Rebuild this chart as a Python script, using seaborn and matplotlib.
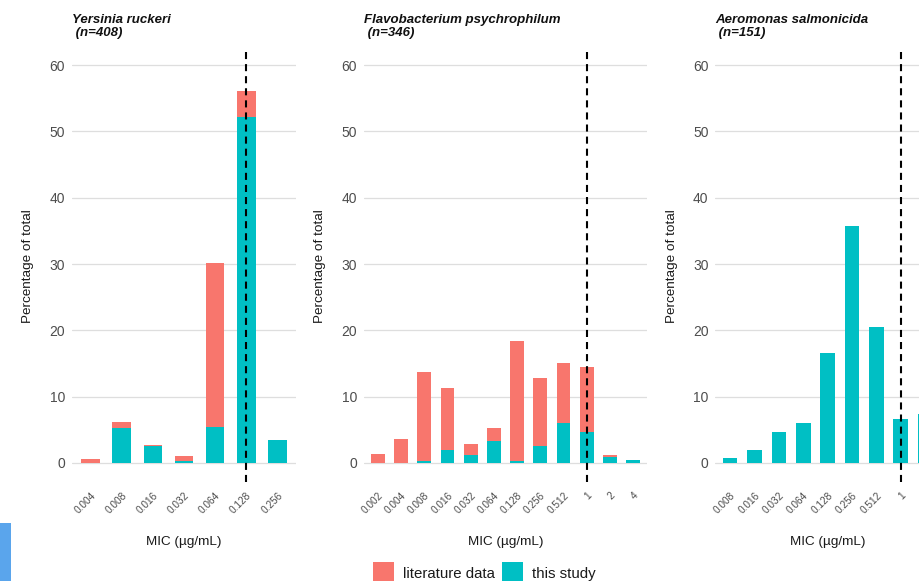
import matplotlib
matplotlib.use("Agg")
import matplotlib.pyplot as plt
from matplotlib.patches import Patch, Rectangle
import seaborn as sns

# MIC categories (µg/mL) per species
yr_mic = ["0.004", "0.008", "0.016", "0.032", "0.064", "0.128", "0.256"]
yr_literature = [0.5, 0.8, 0.2, 0.8, 24.7, 3.9, 0.0]
yr_study = [0.0, 5.3, 2.55, 0.25, 5.4, 52.2, 3.45]

fp_mic = ["0.002", "0.004", "0.008", "0.016", "0.032", "0.064", "0.128",
          "0.256", "0.512", "1", "2", "4"]
fp_literature = [1.4, 3.57, 13.4, 9.3, 1.6, 1.96, 18.04, 10.3, 9.05, 9.8, 0.26, 0.0]
fp_study = [0.0, 0.0, 0.3, 1.96, 1.16, 3.32, 0.3, 2.56, 6.08, 4.72, 0.9, 0.35]

as_mic = ["0.008", "0.016", "0.032", "0.064", "0.128", "0.256", "0.512", "1", "2"]
as_literature = [0.0, 0.0, 0.0, 0.0, 0.0, 0.0, 0.0, 0.0, 0.0]
as_study = [0.75, 2.0, 4.67, 5.98, 16.63, 35.8, 20.55, 6.63, 7.3]

titles = ["Yersinia ruckeri\n (n=408)",
          "Flavobacterium psychrophilum\n (n=346)",
          "Aeromonas salmonicida\n (n=151)"]
breakpoints = ["0.128", "1", "1"]
y_ticks = [0, 10, 20, 30, 40, 50, 60]

LIT_COLOR = "#F8766D"
STUDY_COLOR = "#00BFC4"

sns.set_theme(style="white")
plt.rcParams["font.family"] = ["Liberation Sans", "DejaVu Sans"]

W, H = 920, 581
fig = plt.figure(figsize=(W / 100, H / 100), dpi=100)


def px_axes(left, right, top=50, bottom=482):
    return fig.add_axes([left / W, (H - bottom) / H, (right - left) / W, (bottom - top) / H])


panels = [
    (px_axes(72, 296), yr_mic, yr_literature, yr_study),
    (px_axes(364, 647), fp_mic, fp_literature, fp_study),
    (px_axes(715.4, 939.8), as_mic, as_literature, as_study),
]

for (ax, mic, lit, study), title, bp in zip(panels, titles, breakpoints):
    total = [a + b for a, b in zip(lit, study)]
    # stacked bars: full height in literature colour, study share on top of it from zero
    sns.barplot(x=mic, y=total, order=mic, color=LIT_COLOR, saturation=1,
                width=0.6, linewidth=0, ax=ax, zorder=2)
    sns.barplot(x=mic, y=study, order=mic, color=STUDY_COLOR, saturation=1,
                width=0.6, linewidth=0, ax=ax, zorder=3)
    ax.axvline(mic.index(bp), color="black", lw=1.5, dashes=(3.4, 2.4), zorder=4)

    ax.set_xlim(-0.6, len(mic) - 0.4)
    ax.set_ylim(-2.9, 62.3)
    ax.set_yticks(y_ticks)
    ax.yaxis.grid(True, color="#DEDEDE", lw=0.9, zorder=0)
    ax.xaxis.grid(False)
    for s in ax.spines.values():
        s.set_visible(False)
    ax.tick_params(axis="both", length=0)
    ax.tick_params(axis="y", labelsize=10, labelcolor="#4D4D4D", pad=5)
    ax.tick_params(axis="x", labelsize=7.3, labelcolor="#4D4D4D", pad=6)
    for lab in ax.get_xticklabels():
        lab.set_rotation(45)
        lab.set_ha("right")
        lab.set_rotation_mode("anchor")

    ax.set_xlabel("MIC (µg/mL)", fontsize=9.7, color="#1A1A1A", labelpad=15)
    ax.set_ylabel("Percentage of total", fontsize=9.7, color="#1A1A1A", labelpad=11)
    ax.set_title(title, loc="left", fontsize=9.5, fontstyle="italic",
                 fontweight="bold", color="#111111", pad=10, linespacing=1.1)

# the last category of the right panel lies beyond the figure edge
panels[2][0].get_xticklabels()[-1].set_visible(False)

handles = [Patch(facecolor=LIT_COLOR, edgecolor="none", label="literature data"),
           Patch(facecolor=STUDY_COLOR, edgecolor="none", label="this study")]
fig.legend(handles=handles, loc="center", bbox_to_anchor=(484.5 / W, (H - 573) / H),
           ncol=2, frameon=False, fontsize=10.8, handlelength=1.4, handleheight=1.8,
           handletextpad=0.6, columnspacing=0.45, borderpad=0, labelcolor="#1A1A1A")

fig.patches.append(Rectangle((0, 0), 11 / W, 58 / H, transform=fig.transFigure,
                             facecolor="#5AA5EC", edgecolor="none"))

fig.savefig("out.png", dpi=100)
